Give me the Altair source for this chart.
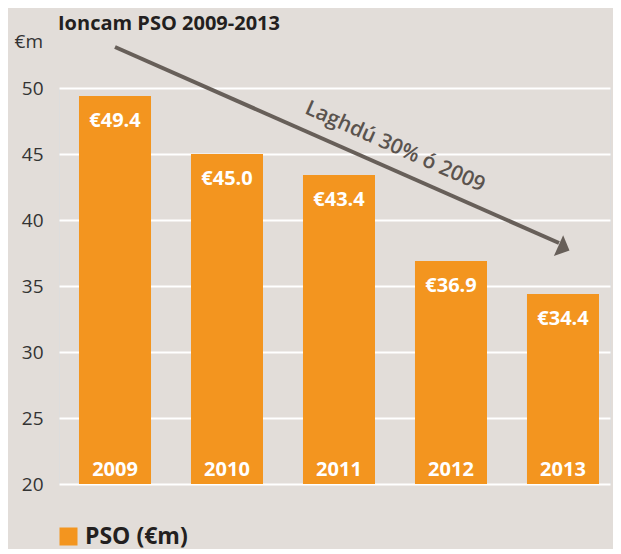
import altair as alt
import pandas as pd

years = ["2009", "2010", "2011", "2012", "2013"]
values = [49.4, 45.0, 43.4, 36.9, 34.4]
labels = ["€49.4", "€45.0", "€43.4", "€36.9", "€34.4"]
series = "PSO (€m)"
y_ticks = [20, 25, 30, 35, 40, 45, 50]
title_text = "Ioncam PSO 2009-2013"
unit_text = "€m"
arrow_text = "Laghdú 30% ó 2009"

ORANGE = "#F3951F"
BG = "#E2DDD9"
ARROW = "#675F59"
DARK = "#231F20"

df = pd.DataFrame({"year": years, "value": values, "label": labels, "series": [series] * len(years)})
one = pd.DataFrame({"k": [0]})

x = alt.X("year:N", axis=None,
          scale=alt.Scale(paddingInner=0.357, paddingOuter=0.1384, align=0.645))
y_scale = alt.Scale(domain=[20, 50], zero=False, nice=False)

base = alt.Chart(df)

bars = base.mark_bar(clip=False).encode(
    x=x,
    y=alt.Y("value:Q", scale=y_scale,
            axis=alt.Axis(values=y_ticks, title=None, domain=False, ticks=False,
                          grid=True, gridColor="white", gridWidth=2,
                          labelFontSize=19, labelColor="#333333", labelPadding=16,
                          labelFont="Open Sans")),
    y2=alt.datum(20),
    color=alt.Color("series:N", scale=alt.Scale(range=[ORANGE]),
                    legend=alt.Legend(orient="none", legendX=-2, legendY=437, title=None,
                                      symbolType="square", symbolSize=324,
                                      symbolStrokeWidth=0, symbolOpacity=1,
                                      labelFontSize=23, labelFontWeight="bold",
                                      labelColor=DARK, labelOffset=5, padding=0,
                                      labelFont="Open Sans")),
)

value_text = base.mark_text(color="white", fontSize=20, fontWeight="bold",
                            baseline="alphabetic", dy=31, font="Open Sans").encode(
    x=x, y=alt.Y("value:Q", scale=y_scale), text="label:N")

year_text = base.mark_text(color="white", fontSize=20, fontWeight="bold",
                           baseline="alphabetic", dy=-8, font="Open Sans").encode(
    x=x, y=alt.datum(20), text="year:N")

ann = alt.Chart(one)

title_mark = ann.mark_text(align="left", baseline="alphabetic", fontSize=20,
                           fontWeight="bold", color=DARK, font="Open Sans").encode(
    x=alt.value(-1), y=alt.value(-58), text=alt.value(title_text))

unit_mark = ann.mark_text(align="right", baseline="alphabetic", fontSize=19,
                          color="#333333", font="Open Sans").encode(
    x=alt.value(-16), y=alt.value(-40), text=alt.value(unit_text))

arrow_line = ann.mark_rule(color=ARROW, strokeWidth=4).encode(
    x=alt.value(56), y=alt.value(-41), x2=alt.value(500), y2=alt.value(155))

arrow_head = ann.mark_point(shape="M1,0L-1,-1.9L-1,1.9Z", filled=True, opacity=1,
                            color=ARROW, size=144, angle=24, strokeWidth=0).encode(
    x=alt.value(505), y=alt.value(160))

arrow_label = ann.mark_text(angle=24, align="center", baseline="middle", fontSize=21,
                            fontWeight=600, color="#5A534E", font="Open Sans").encode(
    x=alt.value(336), y=alt.value(59), text=alt.value(arrow_text))

chart = alt.layer(bars, value_text, year_text, arrow_line, arrow_head, arrow_label,
                  title_mark, unit_mark).properties(
    width=551, height=396,
    autosize=alt.AutoSizeParams(type="none"),
    padding={"left": 51, "top": 80, "right": 3, "bottom": 65},
    background=BG,
).configure_view(stroke=None).configure(font="Open Sans")

chart.save("out.html", embed_options={"renderer": "svg", "actions": False})
